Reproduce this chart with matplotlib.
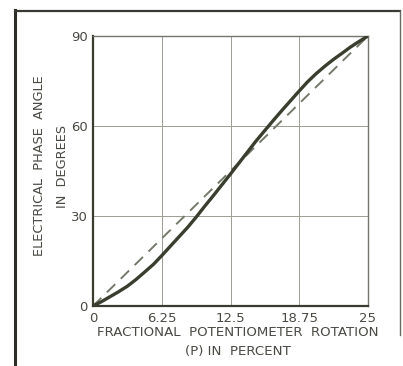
import matplotlib
matplotlib.use("Agg")
import matplotlib.pyplot as plt
from matplotlib.lines import Line2D

# Data
rotation = [0, 0.8, 1.5, 2.3, 3.125, 3.9, 4.69, 5.5, 6.25, 7.0, 7.8, 8.6, 9.375, 10.1, 10.9, 11.7,
            12.5, 13.3, 14.06, 14.8, 15.6, 16.4, 17.2, 18.0, 18.75, 19.5, 20.3, 21.1, 21.9, 22.7, 23.4, 24.2, 25]
phase = [0, 1.5, 3.0, 4.7, 6.6, 8.8, 11.3, 13.9, 16.8, 19.8, 23.0, 26.2, 29.6, 33.0, 36.6, 40.3,
         44.0, 47.8, 51.4, 54.9, 58.4, 61.9, 65.3, 68.6, 71.7, 74.7, 77.5, 80.0, 82.3, 84.4, 86.3, 88.2, 90]
linear_x = [0, 25]
linear_y = [0, 90]
xticks = [0, 6.25, 12.5, 18.75, 25]
xtick_labels = ["0", "6.25", "12.5", "18.75", "25"]
yticks = [0, 30, 60, 90]
ytick_labels = ["0", "30", "60", "90"]

W, H = 403, 366
fig = plt.figure(figsize=(W / 100, H / 100), dpi=100)
fig.patch.set_facecolor("white")

ax = fig.add_axes([93 / W, 1 - 306 / H, (368 - 93) / W, (306 - 36) / H])
ax.set_xlim(0, 25)
ax.set_ylim(0, 90)

text_color = "#4a4a44"
grid_color = "#9c9e94"

ax.set_xticks(xticks)
ax.set_yticks(yticks)
ax.grid(True, color=grid_color, linewidth=0.7)
ax.tick_params(length=0, pad=4, labelsize=9.5, colors=text_color)
ax.set_xticklabels(xtick_labels)
ax.set_yticklabels(ytick_labels)

for side in ["left", "bottom"]:
    ax.spines[side].set_color("#3a3c32")
    ax.spines[side].set_linewidth(1.6)
for side in ["top", "right"]:
    ax.spines[side].set_color("#74766c")
    ax.spines[side].set_linewidth(1.0)

ax.plot(linear_x, linear_y, color="#737a6a", linewidth=1.4,
        dashes=(6, 4), zorder=3)
ax.plot(rotation, phase, color="#3a3e2e", linewidth=2.4,
        solid_capstyle="round", zorder=4)

# y-axis labels (two lines)
fig.text(40 / W, 1 - 166 / H, "ELECTRICAL  PHASE  ANGLE", rotation=90,
         ha="center", va="center", fontsize=9.3, color=text_color)
fig.text(62 / W, 1 - 166 / H, "IN  DEGREES", rotation=90,
         ha="center", va="center", fontsize=9.3, color=text_color)

# x-axis labels (two lines)
fig.text(238 / W, 1 - 333 / H, "FRACTIONAL  POTENTIOMETER  ROTATION",
         ha="center", va="center", fontsize=9.6, color=text_color)
fig.text(238 / W, 1 - 352 / H, "(P) IN  PERCENT",
         ha="center", va="center", fontsize=9.6, color=text_color)

# outer frame
fig.add_artist(Line2D([15 / W, 15 / W], [0, 1 - 10 / H], color="#2e2e28", linewidth=2.2))
fig.add_artist(Line2D([15 / W, 400 / W], [1 - 11 / H, 1 - 11 / H], color="#3a3a34", linewidth=1.6))
fig.add_artist(Line2D([400 / W, 400 / W], [1 - 11 / H, 1 - 335 / H], color="#6a6a64", linewidth=1.0))

fig.savefig("out.png", dpi=100, facecolor="white")
